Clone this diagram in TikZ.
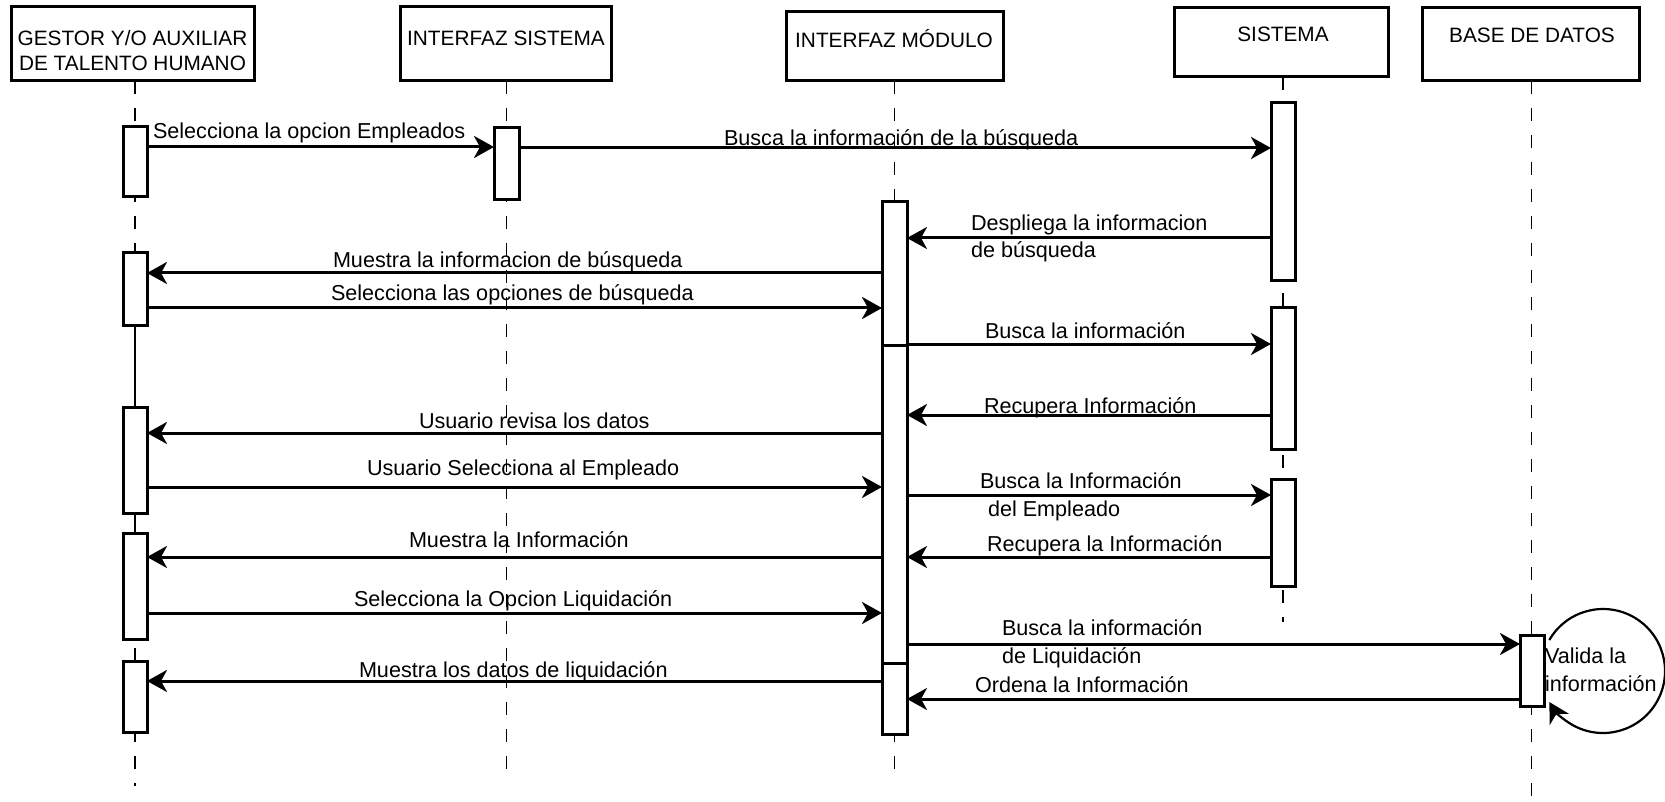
\documentclass[tikz,border=0pt]{standalone}
\usepackage{fontspec}
\setmainfont{Liberation Sans}
\usetikzlibrary{arrows.meta,fit}
\begin{document}
\begin{tikzpicture}[x=0.5pt,y=-0.5pt,
  every node/.style={inner sep=0pt, outer sep=0pt},
  txt/.style={font=\fontsize{10.8}{13}\selectfont},
  htxt/.style={font=\fontsize{10.4}{13}\selectfont, anchor=base},
  lbl/.style={txt, anchor=base west},
  headbox/.style={draw, line width=1.5pt, fill=white},
  actbox/.style={draw, line width=1.5pt, fill=white},
  lifeline/.style={line width=0.8pt, dash pattern=on 6.5pt off 7pt},
  solidline/.style={line width=0.8pt},
  msg/.style={line width=1.5pt, -{Stealth[length=10pt,width=11pt,inset=3pt]}},
  selfmsg/.style={line width=1.1pt, -{Stealth[length=10pt,width=11pt,inset=3pt]}},
]
\useasboundingbox[fill=white] (0,0) rectangle (1665,802);

% header boxes
\node[headbox, fit={(11,7) (254,81)}] (h1) {};
\node[headbox, fit={(400,7) (611,81)}] (h2) {};
\node[headbox, fit={(786,12) (1003,81)}] (h3) {};
\node[headbox, fit={(1174,8) (1388,77)}] (h4) {};
\node[headbox, fit={(1422,8) (1639,81)}] (h5) {};

\node[htxt] (t1a) at (132.5,46) {GESTOR Y/O AUXILIAR};
\node[htxt] (t1b) at (132.5,71) {DE TALENTO HUMANO};
\node[htxt] (t2) at (506,46) {INTERFAZ SISTEMA};
\node[htxt] (t3) at (894,48) {INTERFAZ MÓDULO};
\node[htxt] (t4) at (1283,42) {SISTEMA};
\node[htxt] (t5) at (1532,43) {BASE DE DATOS};

% lifelines
\draw[lifeline] ([xshift=1.25pt]h1.south) -- ++(0,705);
\draw[lifeline] ([xshift=0.5pt]h2.south) -- ++(0,697);
\draw[lifeline] (h3.south) -- ++(0,696);
\draw[lifeline] ([xshift=1pt]h4.south) -- ++(0,545);
\draw[lifeline] ([xshift=0.5pt]h5.south) -- ++(0,721);

% activation boxes
\node[actbox, fit={(123,127) (147,197)}] (a1) {};
\node[actbox, fit={(123,253) (147,325)}] (a2) {};
\node[actbox, fit={(123,407) (147,513)}] (a3) {};
\node[actbox, fit={(123,533) (147,639)}] (a4) {};
\node[actbox, fit={(123,661) (147,732)}] (a5) {};
\draw[solidline] (a2.south) -- (a3.north);
\draw[solidline] (a3.south) -- (a4.north);

\node[actbox, fit={(494,128) (519,200)}] (b1) {};

\node[actbox, fit={(882,202) (907,345)}] (c1) {};
\node[actbox, fit={(882,345) (907,663)}] (c2) {};
\node[actbox, fit={(882,663) (907,734)}] (c3) {};

\node[actbox, fit={(1271,103) (1295,281)}] (d1) {};
\node[actbox, fit={(1271,308) (1295,449)}] (d2) {};
\node[actbox, fit={(1271,479) (1295,586)}] (d3) {};

\node[actbox, fit={(1520,635) (1544,706)}] (e1) {};

% messages
\draw[msg] (a1.east |- 0,147) -- (b1.west |- 0,147);
\draw[msg] (b1.east |- 0,148) -- (d1.west |- 0,148);
\draw[msg] (d1.west |- 0,238) -- (c1.east |- 0,238);
\draw[msg] (c1.west |- 0,273) -- (a2.east |- 0,273);
\draw[msg] (a2.east |- 0,308) -- (c1.west |- 0,308);
\draw[msg] (c2.east |- 0,344) -- (d2.west |- 0,344);
\draw[msg] (d2.west |- 0,415) -- (c2.east |- 0,415);
\draw[msg] (c2.west |- 0,433) -- (a3.east |- 0,433);
\draw[msg] (a3.east |- 0,487) -- (c2.west |- 0,487);
\draw[msg] (c2.east |- 0,495) -- (d3.west |- 0,495);
\draw[msg] (c2.west |- 0,557) -- (a4.east |- 0,557);
\draw[msg] (d3.west |- 0,557) -- (c2.east |- 0,557);
\draw[msg] (a4.east |- 0,613) -- (c2.west |- 0,613);
\draw[msg] (c2.east |- 0,644) -- (e1.west |- 0,644);
\draw[msg] (c3.west |- 0,681) -- (a5.east |- 0,681);
\draw[msg] (e1.west |- 0,699) -- (c3.east |- 0,699);

% self message
\coordinate (vc) at (1603,671);
\draw[selfmsg] (vc) ++(-150:62) arc[start angle=150, end angle=-150, radius=31pt];

% labels
\node[lbl] (l1) at (153,139) {Selecciona la opcion Empleados};
\node[lbl] (l2) at (724,146) {Busca la información de la búsqueda};
\node[lbl] (l3a) at (971,231) {Despliega la informacion};
\node[lbl] (l3b) at (971,258) {de búsqueda};
\node[lbl] (l4) at (333,268) {Muestra la informacion de búsqueda};
\node[lbl] (l5) at (331,300) {Selecciona las opciones de búsqueda};
\node[lbl] (l6) at (985,338) {Busca la información};
\node[lbl] (l7) at (984,413) {Recupera Información};
\node[lbl] (l8) at (419,428) {Usuario revisa los datos};
\node[lbl] (l9) at (367,475) {Usuario Selecciona al Empleado};
\node[lbl] (l10a) at (980,488) {Busca la Información};
\node[lbl] (l10b) at (988,516) {del Empleado};
\node[lbl] (l11) at (409,547) {Muestra la Información};
\node[lbl] (l12) at (987,551) {Recupera la Información};
\node[lbl] (l13) at (354,606) {Selecciona la Opcion Liquidación};
\node[lbl] (l14a) at (1002,635) {Busca la información};
\node[lbl] (l14b) at (1002,663) {de Liquidación};
\node[lbl] (l15) at (359,677) {Muestra los datos de liquidación};
\node[lbl] (l16) at (975,692) {Ordena la Información};
\node[lbl] (l17a) at (1545,663) {Valida la};
\node[lbl] (l17b) at (1545,691) {información};
\end{tikzpicture}
\end{document}
